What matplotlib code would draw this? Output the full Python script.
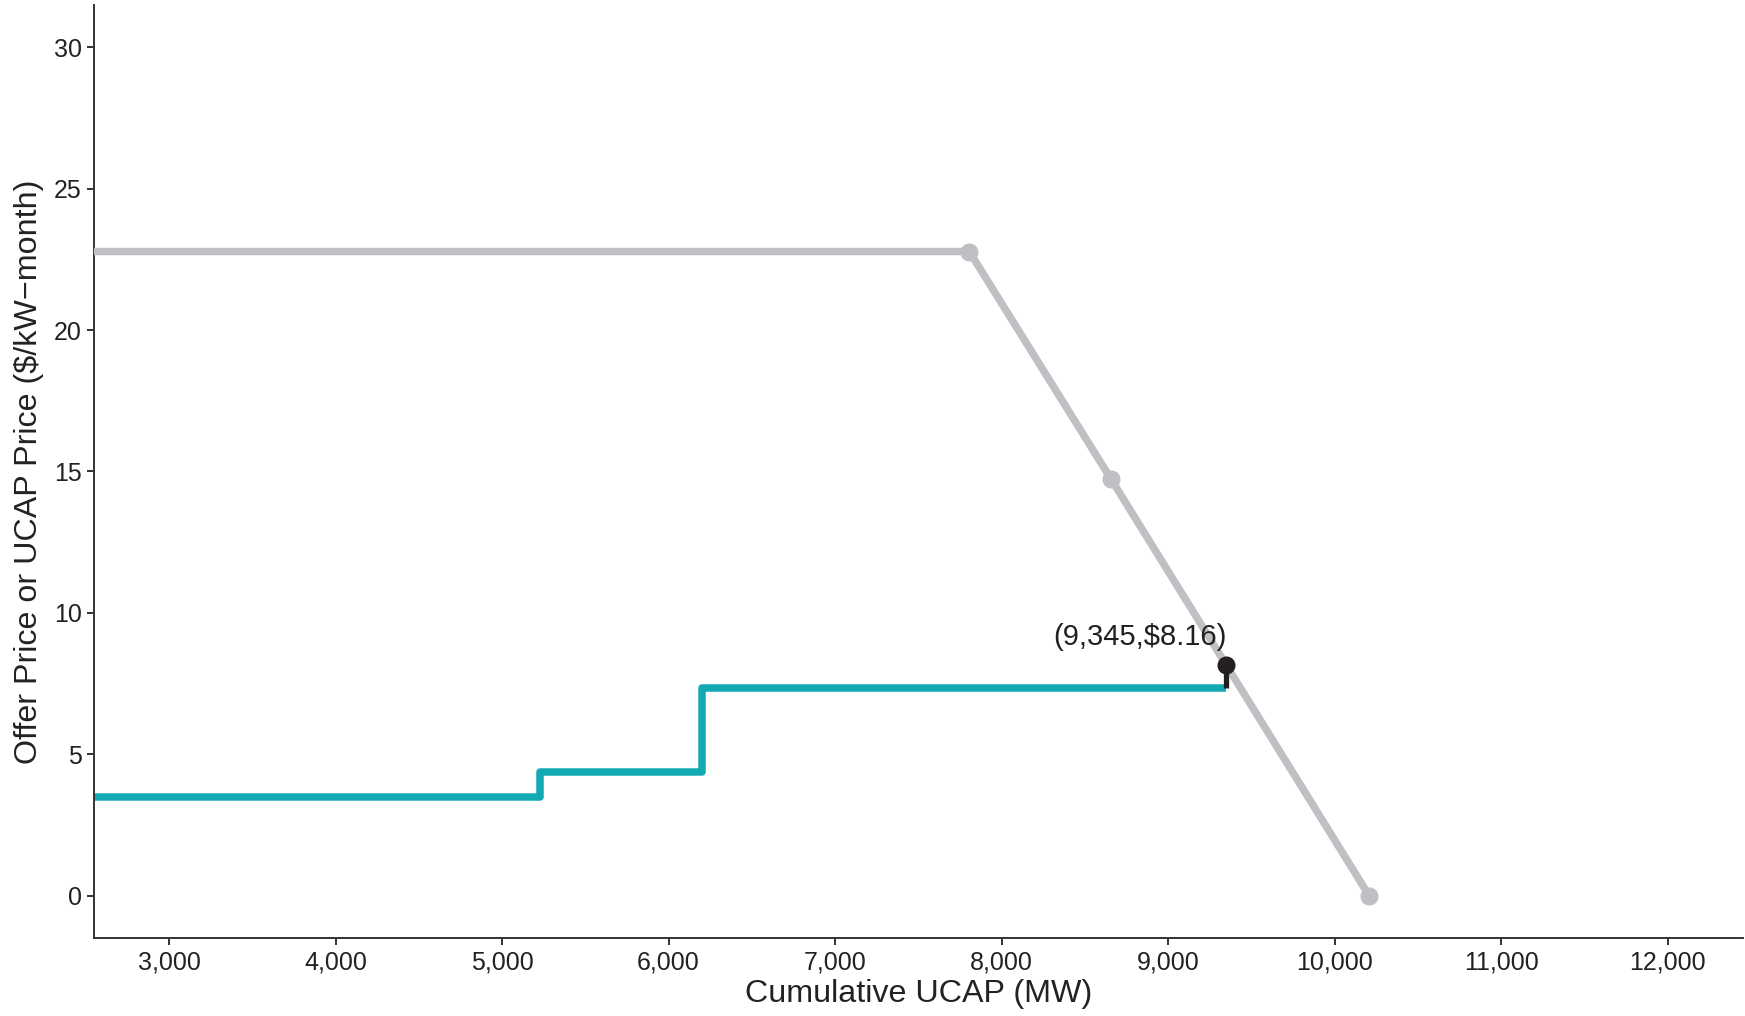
import matplotlib
matplotlib.use("Agg")
import matplotlib.pyplot as plt
from matplotlib.ticker import FuncFormatter

plt.rcParams['font.family'] = ['Liberation Sans', 'DejaVu Sans']

# demand curve (grey): horizontal segment then sloped line
demand_x = [0, 7806, 8658, 10206]
demand_y = [22.78, 22.78, 14.72, 0.0]
demand_pts_x = [7806, 8658, 10206]
demand_pts_y = [22.78, 14.72, 0.0]

# supply offers (teal step curve)
supply_x = [0, 5227, 6203, 9345]
supply_y = [3.48, 4.37, 7.34, 7.34]

# clearing point
clear_x = 9345
clear_y = 8.16
clear_label = "(9,345,$8.16)"

x_ticks = [3000, 4000, 5000, 6000, 7000, 8000, 9000, 10000, 11000, 12000]
y_ticks = [0, 5, 10, 15, 20, 25, 30]

GREY = '#bfc0c4'
TEAL = '#13a9b3'
DARK = '#231f20'
AXC = '#333333'

fig = plt.figure(figsize=(17.45, 10.16), dpi=100)
ax = fig.add_axes([0.0539, 0.0768, 0.9448, 0.9183])

ax.plot(supply_x, supply_y, color=TEAL, linewidth=5.4, drawstyle='steps-post',
        solid_capstyle='butt', solid_joinstyle='round', zorder=2)
ax.plot(demand_x, demand_y, color=GREY, linewidth=5.4, solid_capstyle='round',
        solid_joinstyle='round', zorder=3)
ax.plot(demand_pts_x, demand_pts_y, 'o', color=GREY, markersize=12, zorder=3)

# clearing point with short stem down to the supply curve
ax.plot([clear_x, clear_x], [supply_y[-1], clear_y], color=DARK, linewidth=3.8,
        solid_capstyle='butt', zorder=4)
ax.plot([clear_x], [clear_y], 'o', color=DARK, markersize=12, zorder=5)
ax.annotate(clear_label, (clear_x, clear_y), xytext=(1, 10), textcoords='offset points',
            ha='right', va='bottom', fontsize=21, color=DARK)

ax.set_xlim(2550, 12450)
ax.set_ylim(-1.5, 31.5)
ax.set_xticks(x_ticks)
ax.set_yticks(y_ticks)
ax.xaxis.set_major_formatter(FuncFormatter(lambda v, p: "{:,.0f}".format(v)))

for side in ['top', 'right']:
    ax.spines[side].set_visible(False)
for side in ['left', 'bottom']:
    ax.spines[side].set_color(AXC)
    ax.spines[side].set_linewidth(1.4)
ax.tick_params(axis='both', colors=AXC, width=1.4, length=5, labelsize=18,
               labelcolor='#222222', pad=4)

ax.set_xlabel("Cumulative UCAP (MW)", fontsize=23.2, color='#222222', labelpad=3)
ax.set_ylabel("Offer Price or UCAP Price ($/kW\u2212month)", fontsize=23.2,
              color='#222222', labelpad=7)

fig.savefig("out.png", dpi=100)
